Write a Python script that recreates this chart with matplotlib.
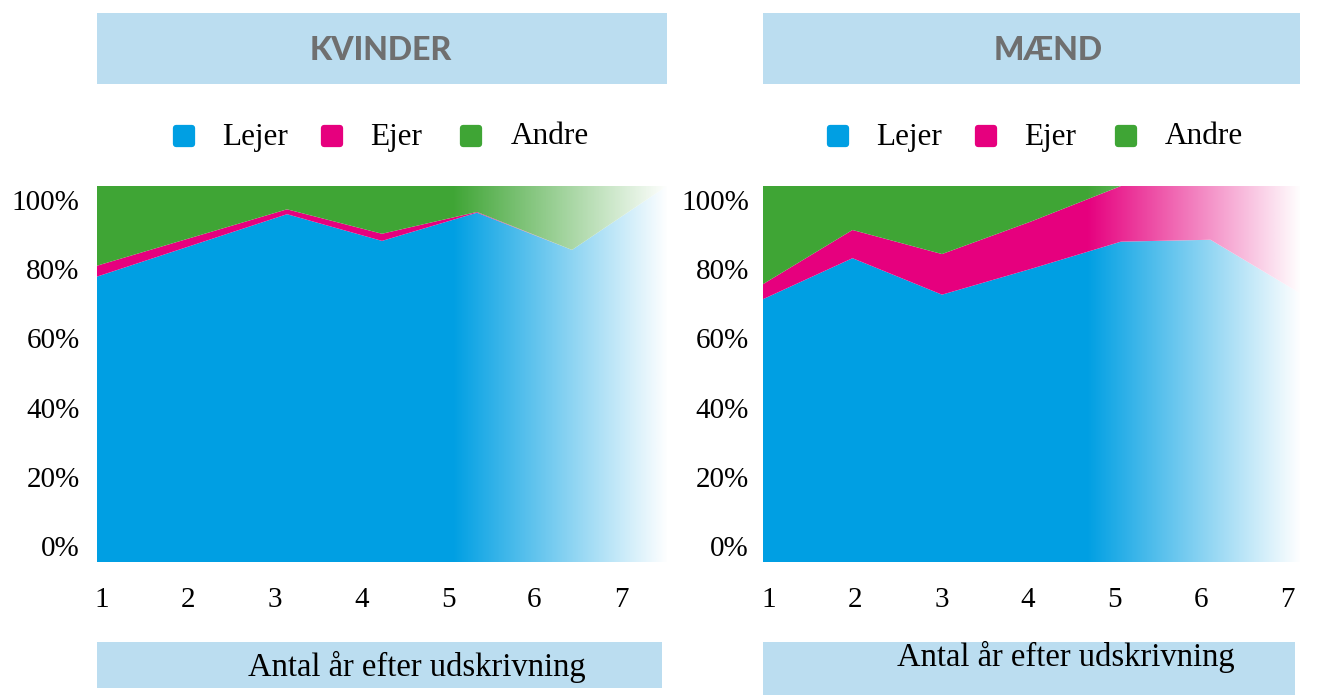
import numpy as np
import matplotlib
matplotlib.use("Agg")
import matplotlib.pyplot as plt
from matplotlib.patches import Rectangle
from matplotlib.lines import Line2D
from matplotlib.markers import MarkerStyle

# ---------------- data ----------------
years = [1, 2, 3, 4, 5, 6, 7]
series_names = ["Lejer", "Ejer", "Andre"]

kvinder_lejer = [75.9, 84.2, 92.5, 85.4, 92.9, 83.0, 100.0]
kvinder_ejer = [2.9, 2.1, 1.3, 1.9, 0.2, 0.0, 0.0]
kvinder_andre = [100 - a - b for a, b in zip(kvinder_lejer, kvinder_ejer)]

maend_lejer = [69.9, 80.8, 71.1, 78.0, 85.2, 85.7, 71.5]
maend_ejer = [4.0, 7.5, 10.8, 12.6, 14.8, 14.3, 28.5]
maend_andre = [100 - a - b for a, b in zip(maend_lejer, maend_ejer)]

panel_titles = ["KVINDER", "MÆND"]
x_tick_labels = ["1", "2", "3", "4", "5", "6", "7"]
y_tick_labels = ["0%", "20%", "40%", "60%", "80%", "100%"]
x_label = "Antal år efter udskrivning"

colors = ["#009FE3", "#E6007E", "#3FA535"]
box_color = "#BBDDF0"
title_color = "#6F6F6F"

W, H = 1323, 695
fig = plt.figure(figsize=(W / 100, H / 100), dpi=100)

def fx(px):
    return px / W

def fy(py):
    return 1 - py / H

serif = "Liberation Serif"

panels = [
    dict(lejer=kvinder_lejer, ejer=kvinder_ejer, andre=kvinder_andre,
         ax_px=(97, 667), fade_start=4.74,
         xt_px=(102, 621), ylab_pad=12.5,
         title_box=(97, 13, 667, 84), title_x=381,
         leg_px=[(183, 222), (331, 370), (470, 511)],
         xl_box=(97, 642, 662, 688), xl_text=(417, 667)),
    dict(lejer=maend_lejer, ejer=maend_ejer, andre=maend_andre,
         ax_px=(763, 1300), fade_start=4.61,
         xt_px=(769, 1287), ylab_pad=10.0,
         title_box=(763, 13, 1300, 84), title_x=1048,
         leg_px=[(837, 876), (985, 1024), (1125, 1165)],
         xl_box=(763, 642, 1295, 695), xl_text=(1066, 657)),
]

top_px, bot_px = 186, 562
ylab_top_px, ylab_bot_px = 200, 546

for i, p in enumerate(panels):
    x0, x1 = p["ax_px"]
    ax = fig.add_axes([fx(x0), fy(bot_px), (x1 - x0) / W, (bot_px - top_px) / H])
    ax.stackplot(years, p["lejer"], p["ejer"], p["andre"], colors=colors,
                 linewidth=0, antialiased=True, zorder=1)
    # white fade to the right
    n = 256
    grad = np.ones((1, n, 4))
    grad[0, :, 3] = np.linspace(0, 1, n)
    ax.imshow(grad, extent=(p["fade_start"], years[-1], 0, 100), aspect="auto",
              zorder=3, interpolation="bilinear")
    ax.set_xlim(years[0], years[-1])
    ax.set_ylim(0, 100)
    for s in ax.spines.values():
        s.set_visible(False)

    # y ticks (placed where the reference prints them)
    ylo = (bot_px - ylab_bot_px) / (bot_px - top_px) * 100
    yhi = (bot_px - ylab_top_px) / (bot_px - top_px) * 100
    ax.set_yticks(np.linspace(ylo, yhi, len(y_tick_labels)))
    ax.set_yticklabels(y_tick_labels, fontfamily=serif, fontsize=21)
    ax.tick_params(axis="y", length=0, pad=p["ylab_pad"])

    # x ticks
    step = (x1 - x0) / (len(years) - 1)
    xlo = years[0] + (p["xt_px"][0] - x0) / step
    xhi = years[0] + (p["xt_px"][1] - x0) / step
    ax.set_xticks(np.linspace(xlo, xhi, len(x_tick_labels)))
    ax.set_xticklabels(x_tick_labels, fontfamily=serif, fontsize=21)
    ax.tick_params(axis="x", length=0, pad=18)

    # title box
    bx0, by0, bx1, by1 = p["title_box"]
    fig.add_artist(Rectangle((fx(bx0), fy(by1)), (bx1 - bx0) / W, (by1 - by0) / H,
                             transform=fig.transFigure, facecolor=box_color,
                             edgecolor="none"))
    fig.text(fx(p["title_x"]), fy(51), panel_titles[i],
             ha="center", va="center", fontsize=23, fontweight="black",
             color=title_color, family=["Lato", "DejaVu Sans"])

    # legend
    for (mx, tx), name, c in zip(p["leg_px"], series_names, colors):
        fig.add_artist(Line2D([fx(mx + 1)], [fy(136)], transform=fig.transFigure,
                              marker=MarkerStyle("s", joinstyle="round"),
                              markersize=11, markerfacecolor=c,
                              markeredgecolor=c, markeredgewidth=4.5,
                              linestyle="none"))
        fig.text(fx(tx), fy(137), name, ha="left", va="center",
                 fontsize=22.5, family=serif)

    # x label box
    lx0, ly0, lx1, ly1 = p["xl_box"]
    fig.add_artist(Rectangle((fx(lx0), fy(ly1)), (lx1 - lx0) / W, (ly1 - ly0) / H,
                             transform=fig.transFigure, facecolor=box_color,
                             edgecolor="none"))
    fig.text(fx(p["xl_text"][0]), fy(p["xl_text"][1]), x_label,
             ha="center", va="center", fontsize=23.5, family=serif)

fig.savefig("out.png", dpi=100)
